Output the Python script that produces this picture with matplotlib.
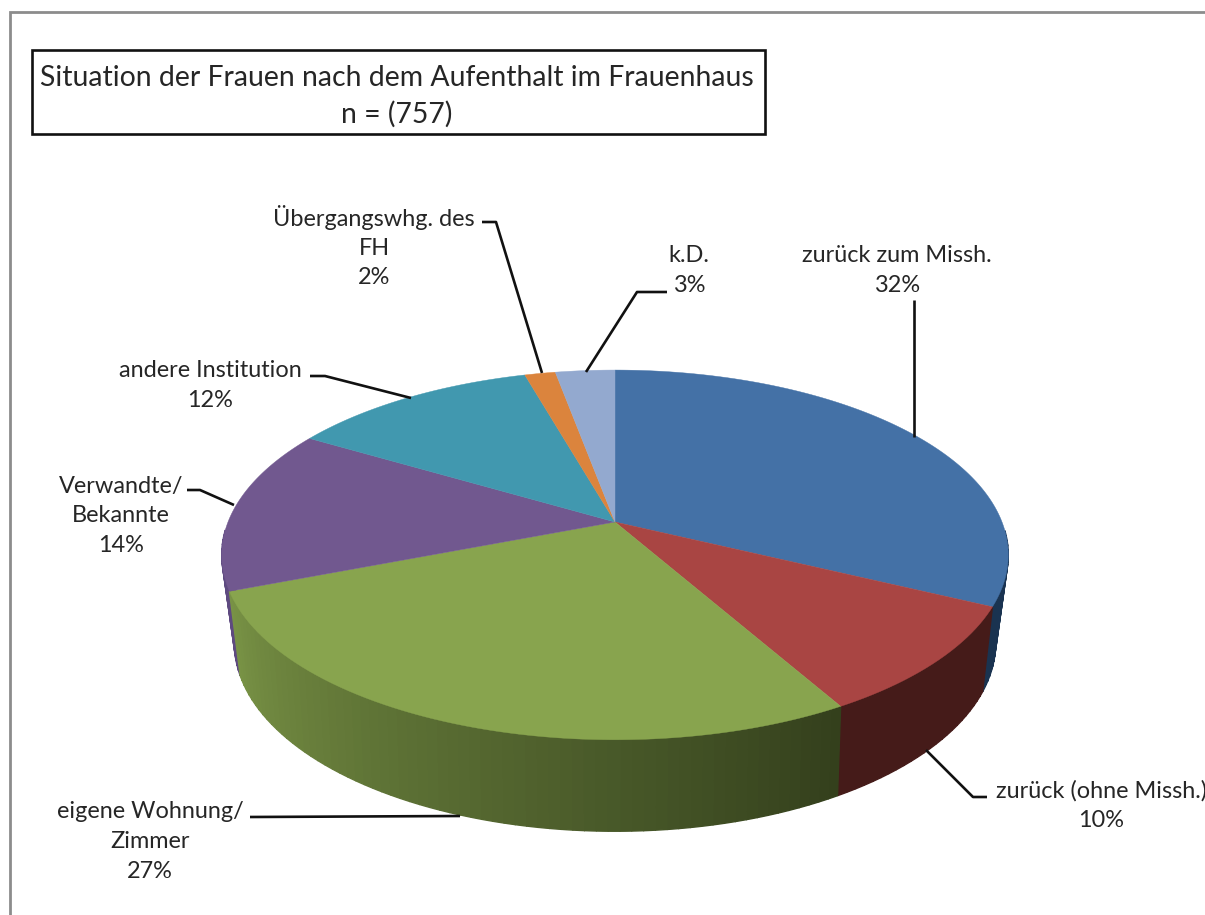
import numpy as np
import matplotlib
matplotlib.use("Agg")
import matplotlib.pyplot as plt
from matplotlib.patches import Polygon, Rectangle
from matplotlib.colors import to_rgb

# --- data ---
categories = ["zurück zum Missh.", "zurück (ohne Missh.)", "eigene Wohnung/\nZimmer",
              "Verwandte/\nBekannte", "andere Institution", "Übergangswhg. des\nFH", "k.D."]
values = [32.2, 9.6, 27.3, 14.4, 12.1, 1.5, 2.9]
title_lines = ["Situation der Frauen nach dem Aufenthalt im Frauenhaus", "n = (757)"]

# --- style ---
top_colors = ["#4471A6", "#A94543", "#88A44E", "#71588F", "#4198AF", "#DB843D", "#93A9CF"]
side_start = ["#1E3A5C", "#451B19", "#333F1C", "#5E4A80", "#2C6A7A", "#8A5020", "#5F6F8C"]
side_end = ["#1A3350", "#451B19", "#7A9446", "#64508A", "#2C6A7A", "#8A5020", "#5F6F8C"]
FONT = "Lato"
TXT = "#262626"
FS = 16.9

fig = plt.figure(figsize=(12.05, 9.15), dpi=100)
ax = fig.add_axes([0, 0, 1, 1])
ax.set_xlim(0, 1205)
ax.set_ylim(915, 0)
ax.axis("off")


def top_rim(th):
    u, v = np.sin(th), np.cos(th)
    d = 1 + 0.178 * v
    return 615 + 387 * u / d, 522 - 179 * v / d


def bottom_rim(th):
    u, v = np.sin(th), np.cos(th)
    d = 1 + 0.2 * v
    return 615 + 373 * u / d, 605 - 181 * v / d


fractions = np.array(values, dtype=float) / np.sum(values)
edges = np.concatenate([[0], np.cumsum(fractions)]) * 2 * np.pi

# side wall, back to front; hidden rear strips are skipped so they cannot fringe the top face
strips = []
for i in range(len(values)):
    n = max(4, int((edges[i + 1] - edges[i]) * 40))
    ths = np.linspace(edges[i], edges[i + 1], n + 1)
    c0, c1 = np.array(to_rgb(side_start[i])), np.array(to_rgb(side_end[i]))
    for j in range(n):
        t = (j + 0.5) / n
        col = c0 + (c1 - c0) * t
        strips.append((i, j, ths[j], ths[j + 1], col))
strips.sort(key=lambda s: -np.cos((s[2] + s[3]) / 2))
for i, j, a, b, col in strips:
    if np.cos((a + b) / 2) > -0.05:
        continue
    m = np.linspace(a, b, 8)
    tx, ty = top_rim(m)
    bx, by = bottom_rim(m[::-1])
    pts = list(zip(tx, ty)) + list(zip(bx, by))
    ax.add_patch(Polygon(pts, closed=True, fc=col, ec=col, lw=1.0, zorder=2))

# top face
for i in range(len(values)):
    ths = np.linspace(edges[i], edges[i + 1], 160)
    xs, ys = top_rim(ths)
    pts = [(615, 522)] + list(zip(xs, ys))
    ax.add_patch(Polygon(pts, closed=True, fc=top_colors[i], ec=top_colors[i], lw=0.3, zorder=3))

# leader lines
leaders = [
    [(914, 300), (914, 437)],
    [(987, 797), (973, 797), (926, 750)],
    [(250, 817), (460, 816)],
    [(187, 490), (200, 490), (234, 505)],
    [(310, 376), (325, 376), (411, 398)],
    [(482, 222), (496, 222), (542, 373)],
    [(667, 292), (637, 292), (586, 372)],
]
for line in leaders:
    xs, ys = zip(*line)
    ax.plot(xs, ys, color="#111111", lw=1.9, zorder=4, solid_capstyle="butt")

# data labels
label_pos = [(897, 270.5), (1101, 805.5), (150, 841.5), (121, 515.5), (210, 385.5), (374, 246.5), (689, 270.5)]
for (x, y), name, val in zip(label_pos, categories, values):
    ax.text(x, y, f"{name}\n{round(val)}%", ha="center", va="center", fontsize=FS, family=FONT,
            color=TXT, linespacing=1.5, zorder=5, clip_on=False)

# title box
ax.add_patch(Rectangle((32, 50), 733, 84, fc="white", ec="#111111", lw=1.9, zorder=5))
ax.text(397, 96, "\n".join(title_lines), ha="center", va="center", fontsize=20.4, family=FONT,
        color=TXT, linespacing=1.44, zorder=6)

# outer chart frame
ax.plot([10, 10, 1205], [915, 12, 12], color="#8C8C8C", lw=2, zorder=1, solid_joinstyle="miter")

fig.savefig("out.png", dpi=100, facecolor="white")
